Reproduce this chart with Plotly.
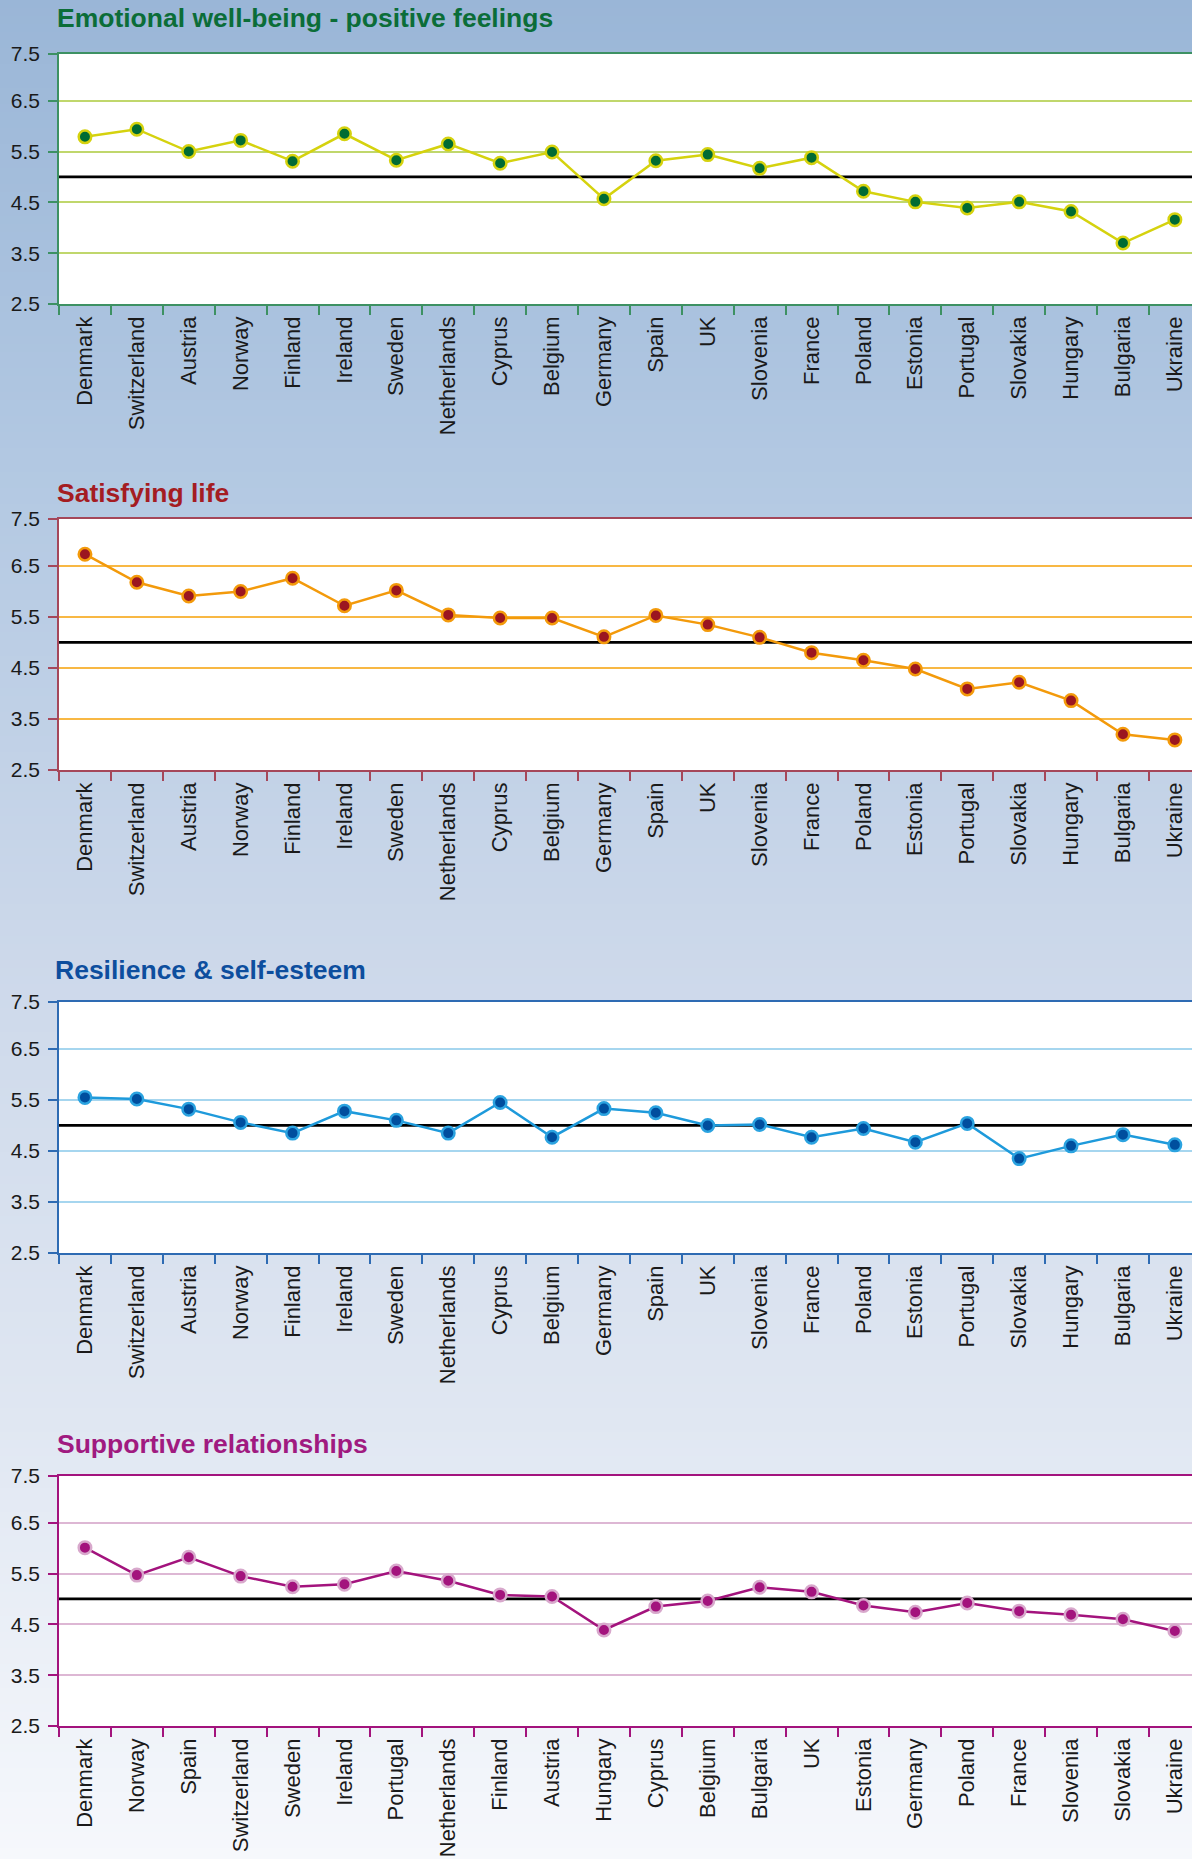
import plotly.graph_objects as go

# ---------------- data ----------------
countries_a = ["Denmark", "Switzerland", "Austria", "Norway", "Finland", "Ireland",
               "Sweden", "Netherlands", "Cyprus", "Belgium", "Germany", "Spain", "UK",
               "Slovenia", "France", "Poland", "Estonia", "Portugal", "Slovakia",
               "Hungary", "Bulgaria", "Ukraine"]
emotional = [5.79, 5.94, 5.50, 5.72, 5.31, 5.85, 5.33, 5.65, 5.27, 5.49, 4.57, 5.32,
             5.44, 5.17, 5.38, 4.72, 4.51, 4.39, 4.51, 4.32, 3.70, 4.16]
satisfying = [6.73, 6.18, 5.91, 6.00, 6.26, 5.72, 6.02, 5.54, 5.48, 5.48, 5.11, 5.53,
              5.35, 5.10, 4.80, 4.65, 4.48, 4.09, 4.22, 3.86, 3.20, 3.09]
resilience = [5.55, 5.52, 5.32, 5.06, 4.85, 5.28, 5.10, 4.85, 5.45, 4.77, 5.33, 5.25,
              5.00, 5.02, 4.77, 4.94, 4.67, 5.04, 4.35, 4.60, 4.82, 4.62]
countries_b = ["Denmark", "Norway", "Spain", "Switzerland", "Sweden", "Ireland",
               "Portugal", "Netherlands", "Finland", "Austria", "Hungary", "Cyprus",
               "Belgium", "Bulgaria", "UK", "Estonia", "Germany", "Poland", "France",
               "Slovenia", "Slovakia", "Ukraine"]
supportive = [6.01, 5.47, 5.82, 5.45, 5.24, 5.29, 5.55, 5.36, 5.08, 5.05, 4.39, 4.85,
              4.96, 5.23, 5.14, 4.87, 4.74, 4.92, 4.76, 4.69, 4.60, 4.37]
titles = ["Emotional well-being - positive feelings", "Satisfying life",
          "Resilience & self-esteem", "Supportive relationships"]
reference_level = 5.0
y_tick_labels = ["2.5", "3.5", "4.5", "5.5", "6.5", "7.5"]

# ---------------- layout / style ----------------
W, H = 1192, 1859
PLOT_LEFT = 59
CAT_W = 51.9
Y_TOP = 7.42
y_tickvals = [2.5, 3.5, 4.5, 5.5, 6.5, Y_TOP]

series = [(countries_a, emotional), (countries_a, satisfying),
          (countries_a, resilience), (countries_b, supportive)]

styles = [
    dict(top=54, bottom=304, tx=55, ty=18, tcol="#0B6D38", line="#D5D20E", fill="#006B33",
         outline="#D5D20E", grid="#C0D76C", axis="#3D9163"),
    dict(top=519, bottom=770, tx=55, ty=493, tcol="#A41C22", line="#F39A0B", fill="#9B1620",
         outline="#F39A0B", grid="#F8B844", axis="#A5475A"),
    dict(top=1002, bottom=1253, tx=53, ty=970, tcol="#0D4E9E", line="#1E9ADB", fill="#004E9E",
         outline="#2BA3E0", grid="#A6D6EF", axis="#2E6BB3"),
    dict(top=1476, bottom=1726, tx=55, ty=1444, tcol="#A01A80", line="#A3137D", fill="#A3137D",
         outline="#D8A8CC", grid="#DDB7D4", axis="#A3137D"),
]

FONT = "Liberation Sans, Arial, sans-serif"

fig = go.Figure()
shapes = []
annotations = []

# gradient background bands
stops = [(0, (154, 182, 215)), (460, (178, 200, 226)), (950, (204, 216, 234)),
         (1420, (224, 231, 242)), (1859, (246, 248, 252))]


def col_at(y):
    for (y0, c0), (y1, c1) in zip(stops[:-1], stops[1:]):
        if y0 <= y <= y1:
            t = (y - y0) / (y1 - y0)
            return "rgb(%d,%d,%d)" % tuple(round(a + (b - a) * t) for a, b in zip(c0, c1))
    return "rgb(%d,%d,%d)" % stops[-1][1]


band = 8
for y in range(0, H, band):
    shapes.append(dict(type="rect", xref="paper", yref="paper", x0=0, x1=1,
                       y0=1 - min(y + band + 1, H) / H, y1=1 - y / H,
                       fillcolor=col_at(y + band / 2), line=dict(width=0), layer="below"))

x_hi = (W - PLOT_LEFT) / CAT_W - 0.5

layout_axes = {}
for i, ((cats, vals), st, title) in enumerate(zip(series, styles, titles), start=1):
    xa = "x" if i == 1 else f"x{i}"
    ya = "y" if i == 1 else f"y{i}"
    fig.add_trace(go.Scatter(
        x=cats, y=vals, mode="lines+markers", xaxis=xa, yaxis=ya,
        line=dict(color=st["line"], width=2.5),
        marker=dict(size=12.5, color=st["fill"], line=dict(color=st["outline"], width=2.5)),
        showlegend=False, hoverinfo="x+y", cliponaxis=False))

    layout_axes["xaxis" if i == 1 else f"xaxis{i}"] = dict(
        domain=[PLOT_LEFT / W, 1], anchor=ya, type="category",
        categoryorder="array", categoryarray=cats,
        range=[-0.5, x_hi], tickson="boundaries", ticks="outside", ticklen=9,
        tickwidth=1.5, tickcolor=st["axis"], showline=True, linecolor=st["axis"],
        linewidth=1.5, mirror=True, showgrid=False, zeroline=False, tickangle=-90,
        ticklabelstandoff=2,
        tickfont=dict(family=FONT, size=22, color="#1a1a1a"), automargin=False,
        fixedrange=True)
    layout_axes["yaxis" if i == 1 else f"yaxis{i}"] = dict(
        domain=[1 - st["bottom"] / H, 1 - st["top"] / H], anchor=xa,
        range=[2.5, Y_TOP], tickmode="array", tickvals=y_tickvals, ticktext=y_tick_labels,
        ticks="outside", ticklen=9, tickwidth=1.5, tickcolor=st["axis"],
        showline=True, linecolor=st["axis"], linewidth=1.5, mirror=False,
        showgrid=True, gridcolor=st["grid"], gridwidth=1.6, zeroline=False,
        ticklabelstandoff=4,
        tickfont=dict(family=FONT, size=21, color="#1a1a1a"), automargin=False,
        fixedrange=True)

    # white plot area on top of the gradient
    shapes.append(dict(type="rect", xref="paper", yref="paper",
                       x0=PLOT_LEFT / W, x1=1, y0=1 - st["bottom"] / H, y1=1 - st["top"] / H,
                       fillcolor="white", line=dict(width=0), layer="below"))
    # reference line
    shapes.append(dict(type="line", xref="paper", yref=ya, x0=PLOT_LEFT / W, x1=1,
                       y0=reference_level, y1=reference_level,
                       line=dict(color="black", width=2.8), layer="below"))

    annotations.append(dict(text=f"<b>{title}</b>", xref="paper", yref="paper",
                            x=st["tx"] / W, y=1 - st["ty"] / H, xanchor="left",
                            yanchor="middle", showarrow=False,
                            font=dict(family=FONT, size=26.5, color=st["tcol"])))

fig.update_layout(
    width=W, height=H, margin=dict(l=0, r=0, t=0, b=0),
    paper_bgcolor="rgb(246,248,252)", plot_bgcolor="white",
    shapes=shapes, annotations=annotations, showlegend=False,
    **layout_axes)

fig.write_html("out.html", config={"displayModeBar": False},
               post_script="document.body.style.margin='0';document.body.style.padding='0';")
